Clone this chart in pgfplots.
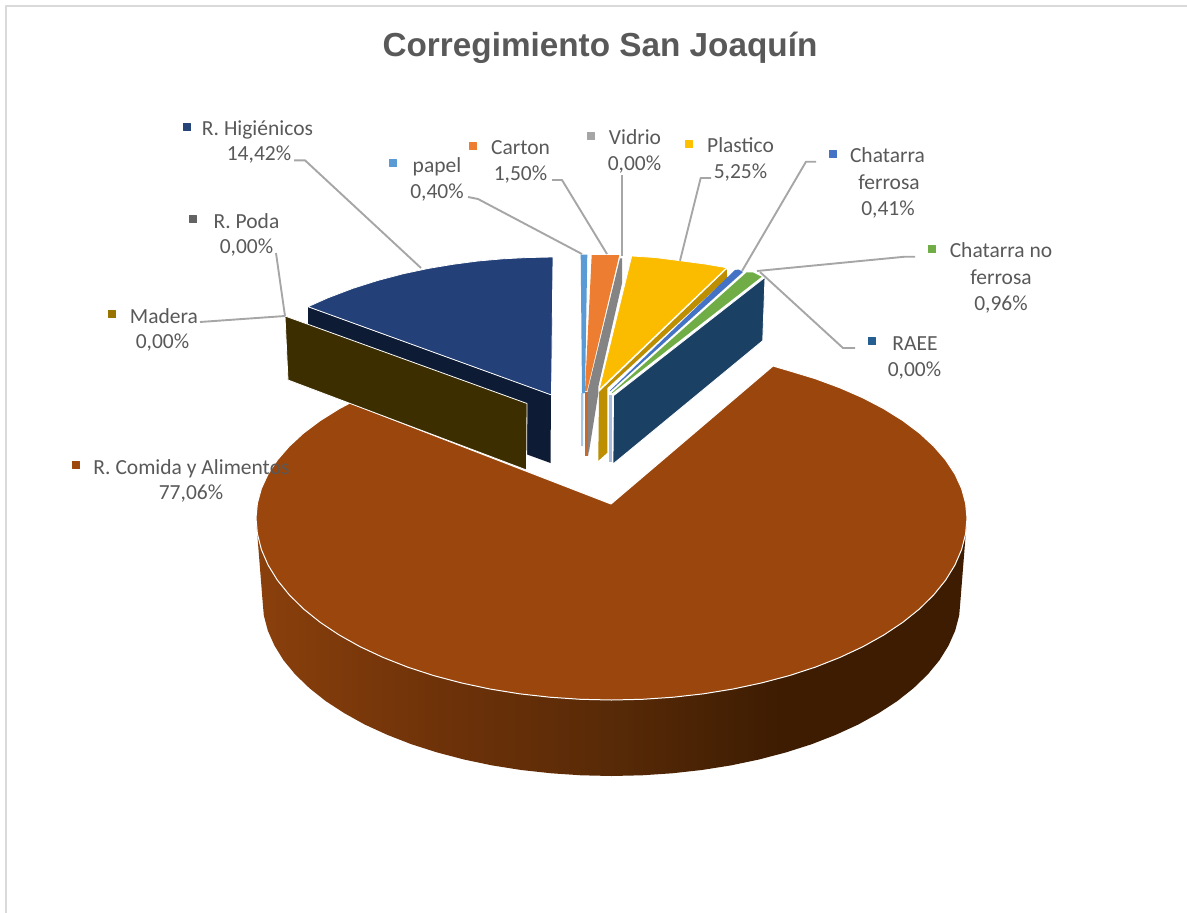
\documentclass[border=0pt]{standalone}
\usepackage{pgfplots}
\pgfplotsset{compat=1.18}
\usepackage{fontspec}
\setmainfont{Carlito}
\newfontfamily\titlefont{Liberation Sans}
\definecolor{txt}{HTML}{595959}
\definecolor{lead}{HTML}{A6A6A6}
\definecolor{frame}{HTML}{D9D9D9}
\definecolor{brownT}{HTML}{9B460C}
\definecolor{wA}{HTML}{8A400C}
\definecolor{wB}{HTML}{6E3209}
\definecolor{wC}{HTML}{582A07}
\definecolor{wD}{HTML}{3D1C02}
\pgfdeclarehorizontalshading{wallshade}{100bp}{color(0bp)=(wA); color(25bp)=(wA); color(38bp)=(wB); color(50bp)=(wC); color(62bp)=(wD); color(75bp)=(wD); color(100bp)=(wD)}
\newcommand{\lab}[3]{\node[font=\fontsize{21.5}{21.5}\selectfont,text=txt,anchor=base,inner sep=0pt] at (axis cs:#1,#2) {#3};}
\begin{document}
\begin{tikzpicture}
\begin{axis}[scale only axis,width=1187pt,height=913pt,xmin=0,xmax=1187,ymin=0,ymax=913,y dir=reverse,hide axis,clip=true,
  every axis plot/.append style={forget plot,mark=none,line join=round}]
% page extent (the hidden axis does not count towards the bounding box)
\addplot[draw=none] coordinates {(0,0)(1187,913)};
% frame
\addplot[draw=frame,line width=2pt] coordinates {(6,913)(6,6)(1187,6)};
% big slice wall
\addplot[shade,shading=wallshade,draw=none] coordinates {
(967,518)(960.5,600)(959.2,615.3)(955.2,630.6)(948.6,645.5)(939.5,660.2)(927.8,674.4)(913.7,688)(897.4,701)(878.8,713.1)(858.3,724.5)(835.8,734.8)(811.7,744.2)(786,752.4)(759,759.5)(730.9,765.4)(701.8,770)(672.1,773.3)(641.9,775.3)(611.5,776)
(581.1,775.3)(551.4,773.3)(521.2,770)(492.1,765.4)(464,759.5)(437,752.4)(411.3,744.2)(387.2,734.8)(364.7,724.5)(344.2,713.1)(325.6,701)(309.3,688)(295.2,674.4)(283.5,660.2)(274.4,645.5)(267.8,630.6)(263.8,615.3)(262.5,600)(256,518)
} -- cycle;
% big slice top
\addplot[fill=brownT,draw=white,line width=1pt] coordinates {
(611,504)(773,366)(789.3,370.8)(815.4,378.7)(840,387.8)(862.9,397.8)(883.8,408.7)(902.7,420.5)(919.4,433)(933.7,446.2)(945.6,459.9)(954.9,474)(961.6,488.5)(965.6,503.2)(967,518)
(965.6,533.9)(961.6,549.6)(954.9,565.1)(945.6,580.2)(933.7,594.9)(919.4,609)(902.7,622.4)(883.8,635)(862.9,646.7)(840,657.4)(815.4,667.1)(789.3,675.6)(761.7,682.9)(733.1,689)(703.5,693.8)(673.2,697.2)(642.5,699.3)(611.5,700)
(580.5,699.3)(549.8,697.2)(519.5,693.8)(489.9,689)(461.3,682.9)(433.7,675.6)(407.6,667.1)(383,657.4)(360.1,646.7)(339.2,635)(320.3,622.4)(303.6,609)(289.3,594.9)(277.4,580.2)(268.1,565.1)(261.4,549.6)(257.4,533.9)(256,518)
(257.4,503.2)(261.4,488.5)(268.1,474)(277.4,459.9)(289.3,446.2)(303.6,433)(320.3,420.5)(339.2,408.7)(350,403)
} -- cycle;
% Higienicos
\addplot[fill={rgb,255:red,14;green,27;blue,52},draw=none] coordinates {(308,307)(551,395)(550.5,463)(308,375)} -- cycle;
\addplot[fill={rgb,255:red,35;green,64;blue,120},draw=white,line width=0.8pt] coordinates {(551.5,395)(553,257)(528,257.5)(503,258.8)(478,261)(453,264.3)(428,268.5)(403,273.8)(378,280.4)(353,288.3)(328,297.8)(308,306.7)} -- cycle;
% Madera box
\addplot[fill={rgb,255:red,61;green,46;blue,0},draw=white,line width=0.8pt] coordinates {(285,316)(527,403.5)(526.5,470)(288,380)} -- cycle;
% papel
\addplot[fill={rgb,255:red,169;green,199;blue,230},draw=none] coordinates {(581,393)(583.5,393)(583,446)(581,446)} -- cycle;
\addplot[fill={rgb,255:red,91;green,155;blue,213},draw=none] coordinates {(580.7,254.5)(587.3,254.5)(585,393)(582,393)} -- cycle;
% Carton
\addplot[fill={rgb,255:red,196;green,106;blue,48},draw=none] coordinates {(585,392)(587.5,392)(587.5,456)(585,456)} -- cycle;
\addplot[fill={rgb,255:red,237;green,125;blue,49},draw=none] coordinates {(591.7,255)(619.3,255)(587,391)(585,391)} -- cycle;
% Vidrio
\addplot[fill={rgb,255:red,132;green,132;blue,132},draw=none] coordinates {(620,258.3)(622,258.3)(622,283.3)(598.3,386.7)(598.3,393.3)(588.3,456)(587.5,391.7)} -- cycle;
% Plastico
\addplot[fill={rgb,255:red,188;green,142;blue,0},draw=none] coordinates {(599,392)(726.7,269.3)(727.3,278)(607.3,388)(607.3,452.7)(598.3,460.7)} -- cycle;
\addplot[fill={rgb,255:red,251;green,188;blue,0},draw=white,line width=0.8pt] coordinates {(599,390)(631.7,256)(655,257.5)(680,260.7)(705,264)(726.7,267.7)} -- cycle;
% Chatarra ferrosa
\addplot[fill={rgb,255:red,168;green,190;blue,220},draw=none] coordinates {(609,395)(611.7,395)(611.7,462)(609,462)} -- cycle;
\addplot[fill={rgb,255:red,68;green,114;blue,196},draw=none] coordinates {(735,270)(738.5,269.5)(743,272)(610.5,391)(609.5,391)} -- cycle;
% Chatarra no ferrosa
\addplot[fill={rgb,255:red,112;green,173;blue,71},draw=none] coordinates {(746.7,272.3)(753,272.5)(761.7,276.7)(612.5,393)(611.5,393)} -- cycle;
% RAEE wall
\addplot[fill={rgb,255:red,26;green,64;blue,100},draw=white,line width=0.8pt] coordinates {(613.5,395.7)(765,277.3)(762.7,340.7)(613,464)} -- cycle;
% leader lines
\addplot[draw=lead,line width=1.9pt] coordinates {(294,160.3)(305,160.3)(421,268)};
\addplot[draw=lead,line width=1.9pt] coordinates {(468,197)(478,199)(582,254)};
\addplot[draw=lead,line width=1.9pt] coordinates {(552,180)(562,180)(607,254)};
\addplot[draw=lead,line width=1.9pt] coordinates {(622,175)(622,256)};
\addplot[draw=lead,line width=1.9pt] coordinates {(680,260.7)(700.7,178)(711,178)};
\addplot[draw=lead,line width=1.9pt] coordinates {(742,271)(806,161.7)(816,161.7)};
\addplot[draw=lead,line width=1.9pt] coordinates {(757,271)(905,256.7)(915,256.7)};
\addplot[draw=lead,line width=1.9pt] coordinates {(760,272)(843,348)(855,348)};
\addplot[draw=lead,line width=1.9pt] coordinates {(200,322)(285,316)};
\addplot[draw=lead,line width=1.9pt] coordinates {(276,253)(285,316)};
% legend keys
\addplot[only marks,mark=square*,mark size=3.5pt,color={rgb,255:red,38;green,68;blue,120}] coordinates {(187,127)};
\addplot[only marks,mark=square*,mark size=3.5pt,color={rgb,255:red,99;green,99;blue,99}] coordinates {(193,219)};
\addplot[only marks,mark=square*,mark size=3.5pt,color={rgb,255:red,153;green,115;blue,0}] coordinates {(112,314)};
\addplot[only marks,mark=square*,mark size=3.5pt,color={rgb,255:red,158;green,72;blue,14}] coordinates {(76,465)};
\addplot[only marks,mark=square*,mark size=3.5pt,color={rgb,255:red,91;green,155;blue,213}] coordinates {(393,163)};
\addplot[only marks,mark=square*,mark size=3.5pt,color={rgb,255:red,237;green,125;blue,49}] coordinates {(473,146)};
\addplot[only marks,mark=square*,mark size=3.5pt,color={rgb,255:red,165;green,165;blue,165}] coordinates {(591,136)};
\addplot[only marks,mark=square*,mark size=3.5pt,color={rgb,255:red,255;green,192;blue,0}] coordinates {(689,144)};
\addplot[only marks,mark=square*,mark size=3.5pt,color={rgb,255:red,68;green,114;blue,196}] coordinates {(833,154)};
\addplot[only marks,mark=square*,mark size=3.5pt,color={rgb,255:red,112;green,173;blue,71}] coordinates {(932,249)};
\addplot[only marks,mark=square*,mark size=3.5pt,color={rgb,255:red,37;green,94;blue,145}] coordinates {(872,341)};
% title
\node[anchor=base,inner sep=0pt,text=txt,font=\titlefont\bfseries\fontsize{33.3}{33.3}\selectfont] at (axis cs:600,56) {Corregimiento San Joaquín};
% labels
\lab{257.5}{135}{R. Higiénicos}
\lab{259}{160}{14,42\%}
\lab{246.5}{228}{R. Poda}
\lab{246.5}{253}{0,00\%}
\lab{164}{323}{Madera}
\lab{162.5}{348}{0,00\%}
\lab{191.5}{474}{R. Comida y Alimentos}
\lab{191}{499}{77,06\%}
\lab{437}{172}{papel}
\lab{437}{198}{0,40\%}
\lab{520.5}{154}{Carton}
\lab{520.5}{180}{1,50\%}
\lab{635}{144}{Vidrio}
\lab{634.5}{170}{0,00\%}
\lab{740.5}{152}{Plastico}
\lab{740.5}{178}{5,25\%}
\lab{887.5}{162}{Chatarra}
\lab{889}{189}{ferrosa}
\lab{888}{215}{0,41\%}
\lab{1001}{257}{Chatarra no}
\lab{1001}{284}{ferrosa}
\lab{1001}{310}{0,96\%}
\lab{915}{350}{RAEE}
\lab{914.5}{376}{0,00\%}
\end{axis}
\end{tikzpicture}
\end{document}
